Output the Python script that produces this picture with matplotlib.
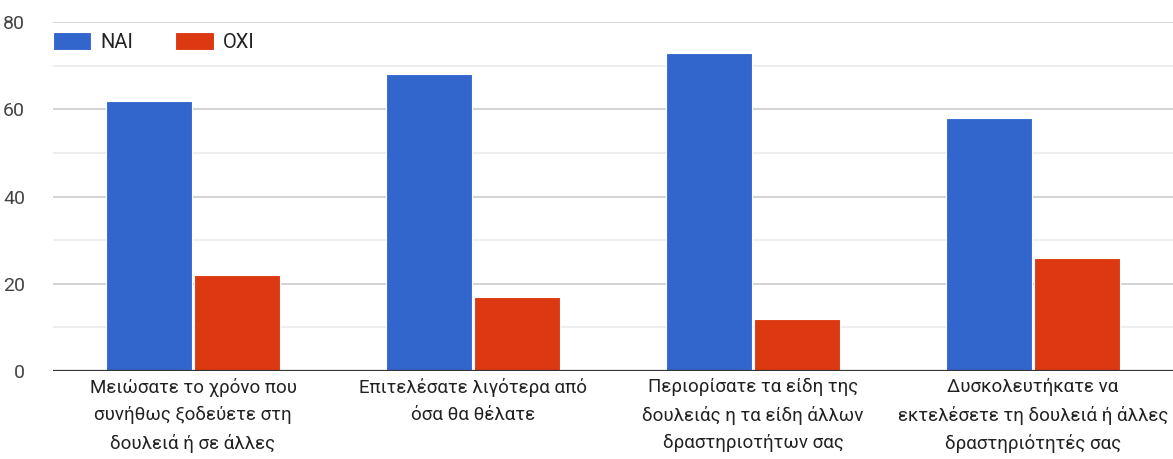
import matplotlib
matplotlib.use("Agg")
import matplotlib.pyplot as plt
import numpy as np

categories = [
    "Μειώσατε το χρόνο που\nσυνήθως ξοδεύετε στη\nδουλειά ή σε άλλες",
    "Επιτελέσατε λιγότερα από\nόσα θα θέλατε",
    "Περιορίσατε τα είδη της\nδουλειάς η τα είδη άλλων\nδραστηριοτήτων σας",
    "Δυσκολευτήκατε να\nεκτελέσετε τη δουλειά ή άλλες\nδραστηριότητές σας",
]
series_names = ["ΝΑΙ", "ΟΧΙ"]
yes_values = [62, 68, 73, 58]
no_values = [22, 17, 12, 26]
y_ticks = [0, 20, 40, 60, 80]

plt.rcParams["font.family"] = ["Roboto", "DejaVu Sans"]

fig = plt.figure(figsize=(11.73, 4.59), dpi=100)
ax = fig.add_axes([53 / 1173, 88 / 459, 1 - 53 / 1173, (371 - 22) / 459])

x = np.arange(len(categories))
w = 0.307
off = 0.1555
ax.bar(x - off, yes_values, width=w, color="#3366cc", edgecolor="white",
       linewidth=0.8, label=series_names[0], zorder=3)
ax.bar(x + off, no_values, width=w, color="#dc3912", edgecolor="white",
       linewidth=0.8, label=series_names[1], zorder=3)

ax.set_xlim(-0.5, len(categories) - 0.5)
ax.set_ylim(0, 80)

# gridlines: major every 20, lighter minor every 10
for v in range(10, 81, 10):
    major = v % 20 == 0
    ax.axhline(v, color="#cccccc" if major else "#ebebeb", linewidth=1.2, zorder=1)
ax.axhline(0, color="#333333", linewidth=1.6, zorder=4)

for s in ax.spines.values():
    s.set_visible(False)

ax.set_yticks(y_ticks)
ax.set_yticklabels([str(t) for t in y_ticks], fontsize=14, color="#444444")
ax.tick_params(axis="y", length=0, pad=20)

ax.set_xticks(x)
ax.set_xticklabels(categories, fontsize=13.5, color="#222222", linespacing=1.65)
ax.tick_params(axis="x", length=0, pad=5)

leg = ax.legend(loc="upper left", bbox_to_anchor=(0.0, 0.972), ncol=2, frameon=False,
                fontsize=14.5, handlelength=1.9, handleheight=1.0, handletextpad=0.45,
                columnspacing=2.1, borderaxespad=0.0, borderpad=0.0)
for t in leg.get_texts():
    t.set_color("#222222")

fig.savefig("out.png", dpi=100)
